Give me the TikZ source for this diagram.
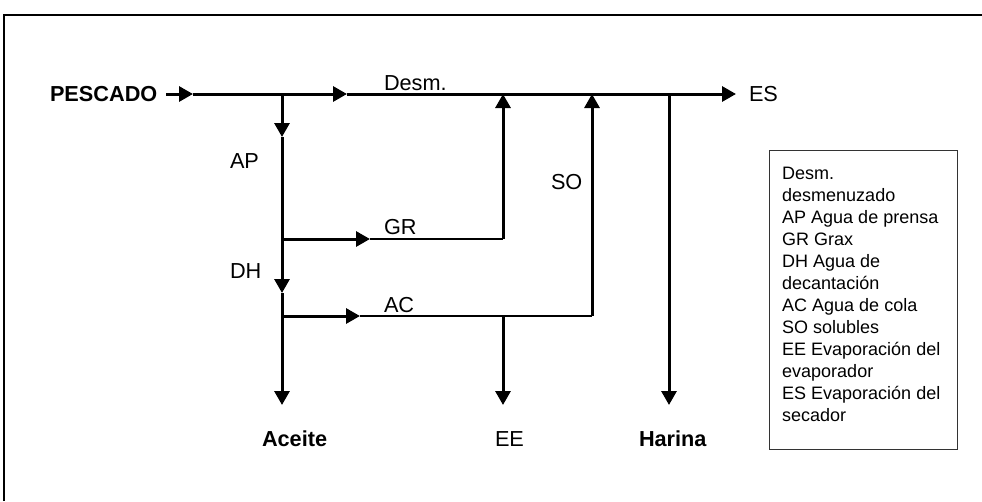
\documentclass[tikz,border=0pt]{standalone}
\usepackage{fontspec}
\setmainfont{Liberation Sans}
\usetikzlibrary{arrows.meta}
\begin{document}
\begin{tikzpicture}[x=1pt,y=-1pt,
  flow/.style={line width=3pt,-{Triangle[width=15pt,length=14pt]}},
  thickline/.style={line width=3pt},
  thinline/.style={line width=1.6pt},
  lbl/.style={font=\fontsize{21.7}{26}\selectfont, inner sep=0pt, outer sep=0pt, anchor=base west},
  blbl/.style={lbl, font=\fontsize{21.7}{26}\selectfont\bfseries},
  legtxt/.style={font=\fontsize{18}{22}\selectfont, inner sep=0pt, anchor=base west},
  legframe/.style={draw=black!80, line width=1.4pt, inner sep=0pt}
]
\useasboundingbox (0,0) rectangle (982,501);
% outer frame (cut by the page on the right and bottom)
\draw[line width=2.2pt] (4,501) -- (4,15) -- (982,15);

% labels
\node[blbl] (pesc) at (50,101) {PESCADO};
\node[lbl] (desm) at (384,90) {Desm.};
\node[lbl] (es) at (749,101) {ES};
\node[lbl] (ap) at (230,168) {AP};
\node[lbl] (dh) at (230,278) {DH};
\node[lbl] (gr) at (384,234) {GR};
\node[lbl] (ac) at (384,312) {AC};
\node[lbl] (so) at (551,189) {SO};
\node[blbl] (aceite) at (262,446) {Aceite};
\node[lbl] (ee) at (495,446) {EE};
\node[blbl] (harina) at (639,446) {Harina};

% junction coordinates
\coordinate (m0) at (166,94);
\coordinate (m1) at (193,94);
\coordinate (m2) at (347,94);
\coordinate (m3) at (736,94);
\coordinate (jAP) at (282,94);
\coordinate (aAP) at (282,137);
\coordinate (jGR) at (282,239);
\coordinate (aDH) at (282,293);
\coordinate (jAC) at (282,316);
\coordinate (aAce) at (282,405);
\coordinate (gTip) at (370,239);
\coordinate (gCorner) at (503,239);
\coordinate (gTop) at (503,94);
\coordinate (cTip) at (360,316);
\coordinate (cMid) at (503,316);
\coordinate (cCorner) at (592,316);
\coordinate (cTop) at (592,94);
\coordinate (aEE) at (503,405);
\coordinate (hTop) at (669,94);
\coordinate (aHar) at (669,405);

% main line
\draw[flow] (m0) -- (m1);
\draw[flow] (m1) -- (m2);
\draw[flow] (m2) -- (m3);

% left column
\draw[flow] (jAP) -- (aAP);
\draw[flow] (aAP) -- (aDH);
\draw[flow] (aDH) -- (aAce);

% GR branch
\draw[flow] (jGR) -- (gTip);
\draw[thinline] (gTip) -- (gCorner);
\draw[flow] (gCorner) -- (gTop);

% AC branch
\draw[flow] (jAC) -- (cTip);
\draw[thinline] (cTip) -- (cCorner);
\draw[flow] (cCorner) -- (cTop);
\draw[flow] (cMid) -- (aEE);

% Harina
\draw[flow] (hTop) -- (aHar);

% legend
\node[legframe, minimum width=188pt, minimum height=299pt, anchor=north west] (legbox) at (769,150) {};
\foreach \t [count=\i] in {Desm., desmenuzado, AP Agua de prensa, GR Grax, DH Agua de, decantación, AC Agua de cola, SO solubles, EE Evaporación del, evaporador, ES Evaporación del, secador}
  \node[legtxt] (leg\i) at (782,{179+22*(\i-1)}) {\t};
\end{tikzpicture}
\end{document}
